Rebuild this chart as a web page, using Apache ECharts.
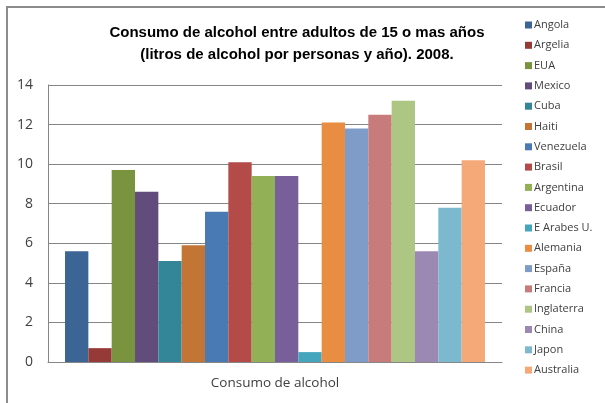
<!DOCTYPE html>
<html>
<head>
<meta charset="utf-8">
<script src="https://cdn.jsdelivr.net/npm/echarts@6/dist/echarts.min.js"></script>
<style>
  html, body { margin: 0; padding: 0; background: #fff; }
  #chart { width: 605px; height: 403px; }
</style>
</head>
<body>
<div id="chart"></div>
<script>
// datos
const categories = ['Consumo de alcohol'];
const countries = ['Angola', 'Argelia', 'EUA', 'Mexico', 'Cuba', 'Haiti', 'Venezuela', 'Brasil',
  'Argentina', 'Ecuador', 'E Arabes U.', 'Alemania', 'España', 'Francia', 'Inglaterra',
  'China', 'Japon', 'Australia'];
const values = [5.6, 0.7, 9.7, 8.6, 5.1, 5.9, 7.6, 10.1, 9.4, 9.4, 0.5, 12.1, 11.8, 12.5, 13.2, 5.6, 7.8, 10.2];
const colors = ['#3c6595', '#953a37', '#79933f', '#624c7c', '#338698', '#c27535',
  '#4a7ab4', '#b54b49', '#92b055', '#785f99', '#45a5bd', '#e98d43',
  '#7f9cc8', '#c87b7b', '#adc684', '#9b89b3', '#7cb9ce', '#f6a978'];
const yTicks = [0, 14, 2]; // min, max, intervalo

const labelFont = '"Open Sans", "Noto Sans", sans-serif';

const chart = echarts.init(document.getElementById('chart'));

const series = countries.map((name, i) => ({
  name: name,
  type: 'bar',
  barGap: '0%',
  barCategoryGap: '7.5%',
  itemStyle: { color: colors[i] },
  data: [values[i]]
}));

chart.setOption({
  animation: false,
  color: colors,
  graphic: [{
    type: 'rect',
    shape: { x: 7, y: 7, width: 700, height: 500 },
    style: { fill: 'none', stroke: '#8c8c8c', lineWidth: 2 },
    silent: true
  }],
  title: {
    text: 'Consumo de alcohol entre adultos de 15 o mas años\n(litros de alcohol por personas y año). 2008.',
    left: 292,
    top: 17,
    textAlign: 'center',
    textStyle: {
      fontFamily: '"Liberation Sans", Arial, sans-serif',
      fontWeight: 'bold',
      fontSize: 15,
      lineHeight: 22,
      color: '#000'
    }
  },
  legend: {
    orient: 'vertical',
    left: 520,
    top: 13,
    icon: 'rect',
    itemWidth: 7,
    itemHeight: 7,
    itemGap: 6.3,
    textStyle: {
      fontFamily: labelFont,
      fontSize: 11,
      lineHeight: 14,
      color: '#404040',
      padding: [0, 0, 0, -3]
    },
    data: countries
  },
  grid: { left: 48, right: 103, top: 85, bottom: 41, containLabel: false },
  xAxis: {
    type: 'category',
    data: categories,
    axisLine: { lineStyle: { color: '#868686', width: 1 } },
    axisTick: { show: false },
    axisLabel: {
      fontFamily: labelFont,
      fontSize: 13.5,
      color: '#404040',
      margin: 14
    }
  },
  yAxis: {
    type: 'value',
    min: yTicks[0],
    max: yTicks[1],
    interval: yTicks[2],
    axisLine: { show: true, lineStyle: { color: '#868686', width: 1 } },
    axisTick: { show: false },
    splitLine: { lineStyle: { color: '#868686', width: 1 } },
    axisLabel: {
      fontFamily: labelFont,
      fontSize: 14,
      color: '#404040',
      margin: 15
    }
  },
  series: series
});
</script>
</body>
</html>
